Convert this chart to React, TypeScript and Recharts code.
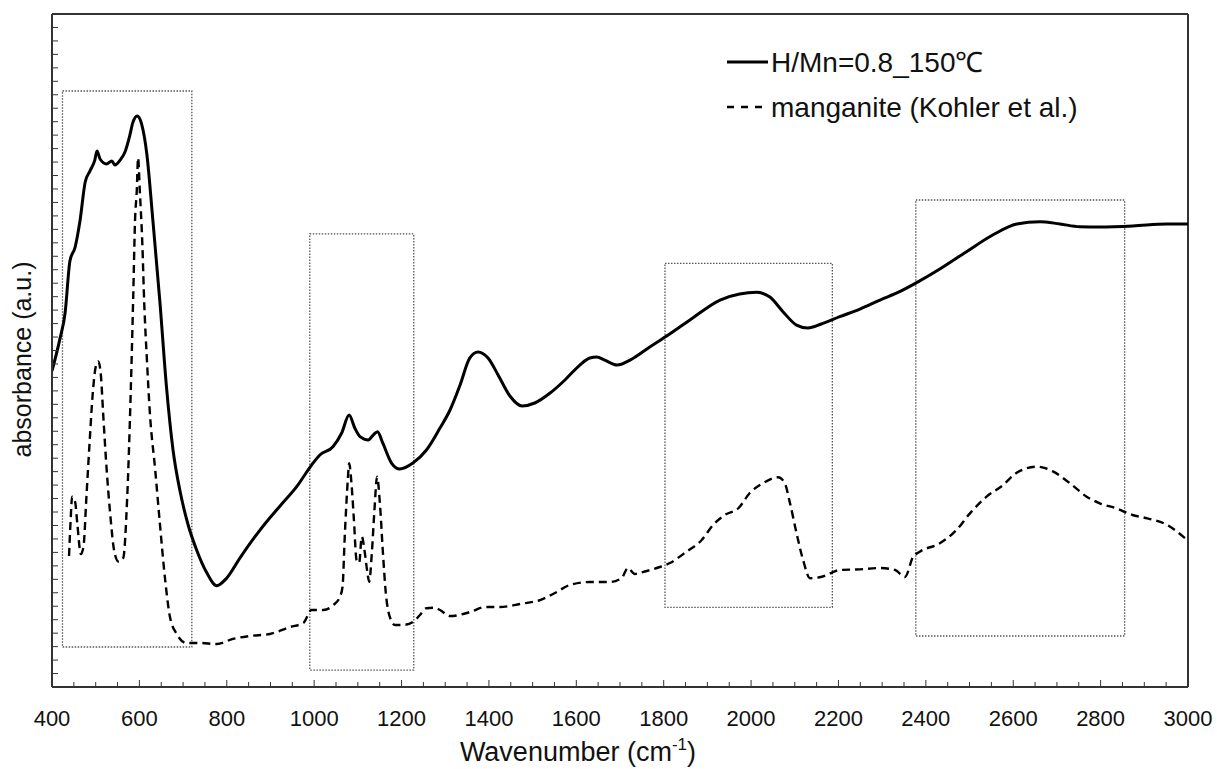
import { Line, LineChart, ReferenceArea, ReferenceLine, XAxis, YAxis } from "recharts";

const FONT = '"Liberation Sans", Arial, Helvetica, sans-serif';
const AXIS = "#333";

// [wavenumber, absorbance]
const sample: [number, number][] = [
  [400, 2.348], [418, 2.585], [430, 2.779], [441, 3.165], [453, 3.269], [464, 3.462],
  [476, 3.752], [487, 3.834], [498, 3.915], [503, 3.982], [510, 3.923], [525, 3.886],
  [537, 3.908], [544, 3.878], [556, 3.915], [567, 3.975], [578, 4.097], [585, 4.193],
  [595, 4.242], [605, 4.183], [617, 3.96], [631, 3.462], [647, 2.86], [662, 2.229],
  [677, 1.761], [693, 1.456], [711, 1.211], [731, 1.018], [754, 0.85], [777, 0.753],
  [800, 0.81], [830, 0.958], [876, 1.166], [887, 1.211], [922, 1.345], [960, 1.488],
  [994, 1.649], [1013, 1.724], [1043, 1.785], [1063, 1.887], [1080, 2.021], [1093, 1.924],
  [1105, 1.86], [1124, 1.835], [1135, 1.872], [1145, 1.897], [1157, 1.813], [1177, 1.664],
  [1196, 1.62], [1226, 1.664], [1257, 1.761], [1288, 1.924], [1311, 2.058], [1334, 2.244],
  [1356, 2.444], [1375, 2.489], [1398, 2.444], [1421, 2.318], [1448, 2.162], [1476, 2.088],
  [1505, 2.11], [1540, 2.184], [1574, 2.281], [1608, 2.392], [1631, 2.444], [1647, 2.452],
  [1665, 2.429], [1693, 2.392], [1723, 2.429], [1768, 2.526], [1803, 2.6], [1860, 2.727],
  [1929, 2.875], [1974, 2.92], [2013, 2.932], [2043, 2.897], [2073, 2.788], [2104, 2.689],
  [2130, 2.667], [2161, 2.697], [2203, 2.751], [2249, 2.808], [2295, 2.875], [2340, 2.937],
  [2379, 3.004], [2432, 3.105], [2493, 3.234], [2553, 3.358], [2608, 3.44], [2661, 3.457],
  [2707, 3.44], [2752, 3.42], [2798, 3.418], [2874, 3.425], [2951, 3.44], [3000, 3.44],
];

const manganite: [number, number][] = [
  [439, 0.973], [443, 1.263], [446, 1.414], [453, 1.374], [458, 1.211], [466, 0.988],
  [472, 1.042], [479, 1.426], [487, 1.868], [493, 2.171], [500, 2.377], [506, 2.418],
  [512, 2.311], [517, 2.036], [525, 1.62], [533, 1.293], [542, 1.018], [552, 0.932],
  [563, 0.958], [572, 1.4], [580, 2.169], [586, 2.914], [590, 3.464], [594, 3.685],
  [597, 3.932], [601, 3.685], [607, 3.271], [611, 2.86], [617, 2.446], [624, 2.036],
  [636, 1.62], [647, 1.211], [659, 0.795], [670, 0.52], [685, 0.396], [708, 0.327],
  [739, 0.327], [777, 0.319], [814, 0.357], [853, 0.379], [899, 0.394], [945, 0.446],
  [975, 0.475], [994, 0.572], [1021, 0.572], [1044, 0.609], [1059, 0.671], [1065, 0.745],
  [1070, 1.117], [1077, 1.538], [1080, 1.662], [1086, 1.488], [1091, 1.241], [1097, 0.944],
  [1103, 0.921], [1109, 1.117], [1116, 0.996], [1122, 0.847], [1126, 0.782], [1132, 0.996],
  [1138, 1.315], [1144, 1.562], [1151, 1.34], [1157, 1.018], [1164, 0.698], [1174, 0.513],
  [1185, 0.461], [1204, 0.461], [1227, 0.485], [1242, 0.535], [1257, 0.585], [1276, 0.589],
  [1288, 0.572], [1311, 0.527], [1357, 0.557], [1391, 0.594], [1425, 0.594], [1471, 0.617],
  [1517, 0.646], [1551, 0.698], [1585, 0.758], [1631, 0.78], [1677, 0.78], [1704, 0.81],
  [1718, 0.884], [1734, 0.84], [1746, 0.849], [1784, 0.884], [1814, 0.921], [1852, 1.005],
  [1887, 1.092], [1913, 1.204], [1940, 1.278], [1971, 1.328], [1997, 1.441], [2028, 1.516],
  [2062, 1.558], [2077, 1.516], [2089, 1.367], [2104, 1.144], [2119, 0.944], [2135, 0.808],
  [2162, 0.819], [2203, 0.869], [2249, 0.874], [2295, 0.884], [2330, 0.869], [2352, 0.817],
  [2371, 0.968], [2386, 1.005], [2432, 1.068], [2470, 1.166], [2501, 1.29], [2539, 1.414],
  [2577, 1.501], [2608, 1.592], [2654, 1.637], [2692, 1.6], [2730, 1.513], [2768, 1.414],
  [2798, 1.365], [2835, 1.328], [2873, 1.278], [2907, 1.253], [2945, 1.216], [3000, 1.087],
];

// dotted boxes: [x1, x2, y1, y2]
const regions: [number, number, number, number][] = [
  [424, 720, 0.297, 4.428],
  [990, 1228, 0.126, 3.366],
  [1803, 2186, 0.592, 3.148],
  [2377, 2855, 0.379, 3.618],
];

const xLabels = [400, 600, 800, 1000, 1200, 1400, 1600, 1800, 2000, 2200, 2400, 2600, 2800, 3000];
const xTicks = Array.from({ length: 53 }, (_, i) => 400 + i * 50);
const yTicks = Array.from({ length: 51 }, (_, i) => Math.round(i * 10) / 100);

const sampleData = sample.map(([wn, a]) => ({ wn, a }));
const manganiteData = manganite.map(([wn, a]) => ({ wn, a }));

const XTick = (props: any) => {
  const { x, y, payload } = props;
  const major = xLabels.includes(payload.value);
  return (
    <g>
      <line x1={x} x2={x} y1={y} y2={y - (major ? 7 : 5)} stroke={AXIS} strokeWidth={1} />
      {major && (
        <text x={x} y={y + 39} textAnchor="middle" fontSize={22} fontFamily={FONT} fill="#111">
          {payload.value}
        </text>
      )}
    </g>
  );
};

const YTick = (props: any) => {
  const { x, y } = props;
  return <line x1={x} x2={x + 6} y1={y} y2={y} stroke={AXIS} strokeWidth={1} />;
};

const XTitle = (props: any) => {
  const { viewBox } = props;
  return (
    <text
      x={viewBox.x + viewBox.width * 0.463}
      y={viewBox.y + 74}
      textAnchor="middle"
      fontSize={27}
      fontFamily={FONT}
      fill="#111"
    >
      Wavenumber (cm
      <tspan fontSize={17} dy={-11}>-1</tspan>
      <tspan dy={11}>)</tspan>
    </text>
  );
};

const YTitle = (props: any) => {
  const { viewBox } = props;
  const cy = viewBox.y + viewBox.height / 2 + 9;
  return (
    <text
      x={31}
      y={cy}
      transform={`rotate(-90 31 ${cy})`}
      textAnchor="middle"
      fontSize={25}
      fontFamily={FONT}
      fill="#111"
    >
      absorbance (a.u.)
    </text>
  );
};

const LegendBox = () => (
  <svg width={470} height={90} style={{ position: "absolute", left: 720, top: 40 }}>
    <line x1={7} x2={48} y1={22} y2={22} stroke="#000" strokeWidth={3} />
    <text x={51} y={32} fontSize={28} fontFamily={FONT} fill="#111">
      H/Mn=0.8_150℃
    </text>
    <line x1={7} x2={48} y1={67} y2={67} stroke="#000" strokeWidth={2.4} strokeDasharray="7 7" />
    <text x={51} y={77} fontSize={28} fontFamily={FONT} fill="#111">
      manganite (Kohler et al.)
    </text>
  </svg>
);

export default function App() {
  return (
    <div style={{ position: "absolute", left: 0, top: 0, width: 1217, height: 769, background: "#fff" }}>
      <LineChart width={1217} height={769} margin={{ top: 14, right: 29, bottom: 0, left: 0 }}>
        <XAxis
          type="number"
          dataKey="wn"
          domain={[400, 3000]}
          ticks={xTicks}
          interval={0}
          height={82}
          tickSize={0}
          tickMargin={0}
          tickLine={false}
          tick={<XTick />}
          axisLine={{ stroke: AXIS, strokeWidth: 2 }}
          allowDataOverflow
          label={<XTitle />}
        />
        <YAxis
          type="number"
          domain={[0, 5]}
          ticks={yTicks}
          interval={0}
          width={52}
          tickSize={0}
          tickMargin={0}
          tickLine={false}
          tick={<YTick />}
          axisLine={{ stroke: AXIS, strokeWidth: 2 }}
          allowDataOverflow
          label={<YTitle />}
        />
        {regions.map(([x1, x2, y1, y2], i) => (
          <ReferenceArea
            key={i}
            x1={x1}
            x2={x2}
            y1={y1}
            y2={y2}
            fill="none"
            stroke="#555"
            strokeWidth={1.3}
            strokeDasharray="1.5 1.5"
          />
        ))}
        <ReferenceLine y={5} stroke={AXIS} strokeWidth={2} />
        <ReferenceLine x={3000} stroke={AXIS} strokeWidth={2} />
        <Line
          data={manganiteData}
          dataKey="a"
          type="monotone"
          stroke="#000"
          strokeWidth={2.4}
          strokeDasharray="8 5"
          dot={false}
          isAnimationActive={false}
        />
        <Line
          data={sampleData}
          dataKey="a"
          type="monotone"
          stroke="#000"
          strokeWidth={3}
          dot={false}
          isAnimationActive={false}
        />
      </LineChart>
      <LegendBox />
    </div>
  );
}
